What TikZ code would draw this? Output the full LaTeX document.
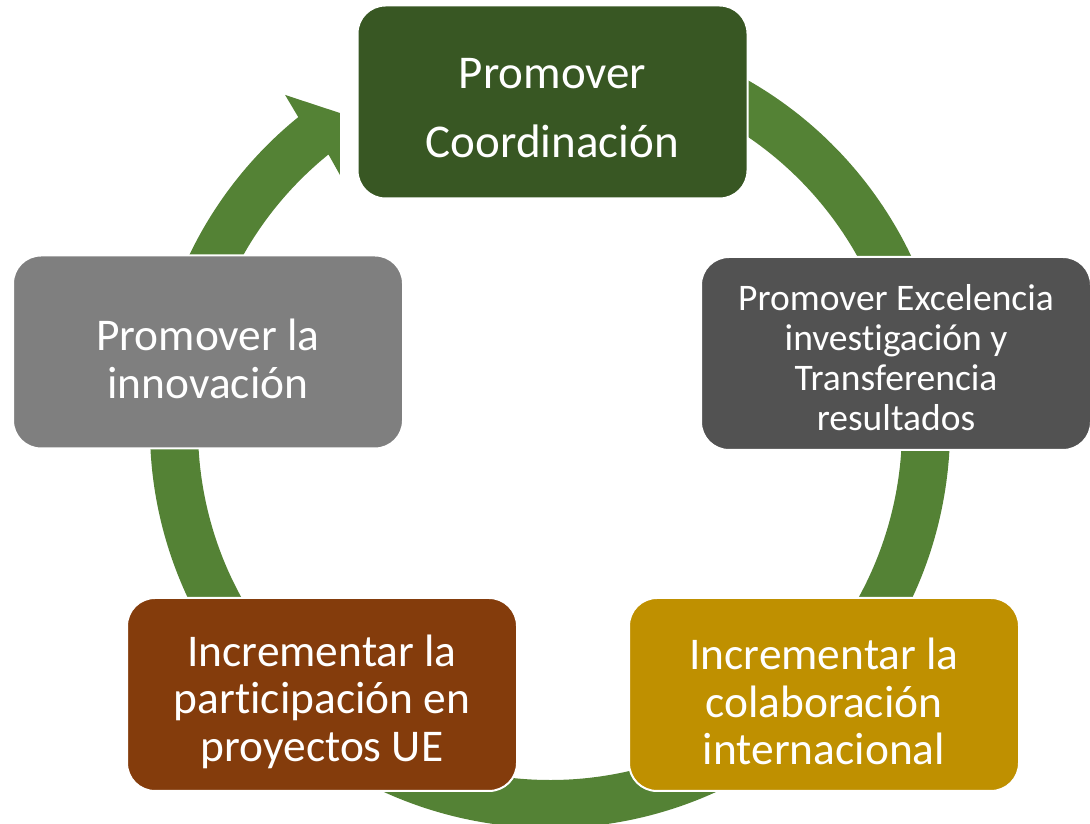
\documentclass[tikz,border=0pt]{standalone}
\usepackage{fontspec}
\setmainfont{Carlito}[Ligatures=NoCommon]
\usetikzlibrary{calc}
\definecolor{ringgreen}{HTML}{548235}
\definecolor{topgreen}{HTML}{385723}
\definecolor{darkgrey}{HTML}{525252}
\definecolor{gold}{HTML}{BF9000}
\definecolor{brown}{HTML}{843C0C}
\definecolor{midgrey}{HTML}{7F7F7F}
\tikzset{
  cyclebox/.style={draw=white, line width=2pt, rounded corners=28pt,
    minimum width=390pt, minimum height=193pt, inner sep=0pt},
  boxtext/.style={align=center, text=white, inner sep=0pt},
  bigtext/.style={font=\fontsize{47}{69}\selectfont},
  midtext/.style={font=\fontsize{45.4}{47.5}\selectfont},
  smalltext/.style={font=\fontsize{37.5}{40}\selectfont},
}
\begin{document}
\begin{tikzpicture}[x=1pt,y=1pt]
\useasboundingbox (0,0) rectangle (1090,824);
\clip (0,0) rectangle (1090,824);
\coordinate (c) at (550,396);
% ring with arrow head
\fill[ringgreen] ($(c)+(80:400)$) arc[start angle=80, end angle=-231, radius=400]
  -- ($(c)+(128.5:425.6)$) -- ($(c)+(123.7:378.6)$) -- ($(c)+(129.7:328.8)$)
  -- ($(c)+(-231:352)$) arc[start angle=-231, end angle=80, radius=352] -- cycle;
% boxes
\node[cyclebox, fill=topgreen] (coord) at (552.5,722) {};
\node[cyclebox, fill=darkgrey] (exc) at (896,470.5) {};
\node[cyclebox, fill=gold] (colab) at (824,129.5) {};
\node[cyclebox, fill=brown] (part) at (322,129.5) {};
\node[cyclebox, fill=midgrey] (innov) at (208,472) {};
% texts
\node[boxtext, bigtext, yshift=-6pt] (coordT) at (coord.center) {Promover\\Coordinación};
\node[boxtext, smalltext, yshift=-4pt] (excT) at (exc.center) {Promover Excelencia\\investigación y\\Transferencia\\resultados};
\node[boxtext, midtext, yshift=-7pt] (colabT) at (colab.center) {Incrementar la\\colaboración\\internacional};
\node[boxtext, midtext, yshift=-7pt] (partT) at (part.center) {Incrementar la\\participación en\\proyectos UE};
\node[boxtext, midtext, yshift=-7pt] (innovT) at (innov.center) {Promover la\\innovación};
\end{tikzpicture}
\end{document}
